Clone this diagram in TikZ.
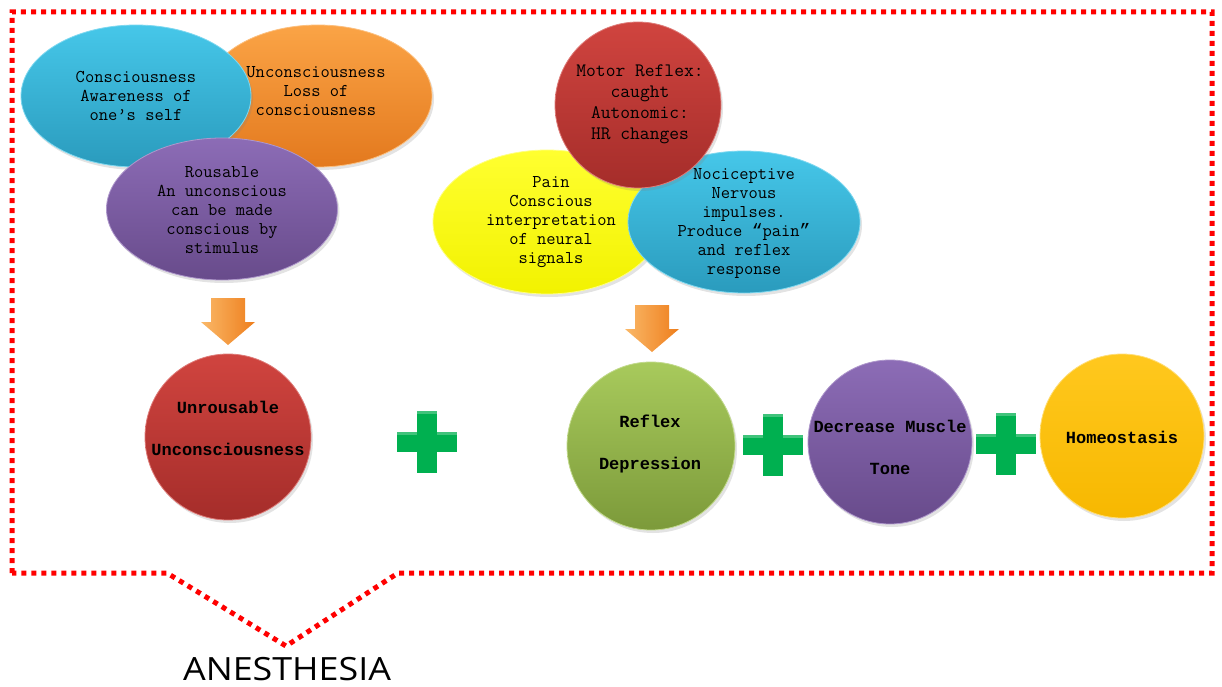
\documentclass[tikz,border=0pt]{standalone}
\usepackage{fontspec}
\newfontfamily\monof{Liberation Mono}
\newfontfamily\lmmono{Latin Modern Mono}
\newfontfamily\anesf[FakeStretch=1.12]{Open Sans}
\usetikzlibrary{shapes.geometric,shadows}
\definecolor{cyanT}{HTML}{46C7E9}
\definecolor{cyanB}{HTML}{2A9BBD}
\definecolor{orT}{HTML}{FBA446}
\definecolor{orB}{HTML}{E3791E}
\definecolor{puT}{HTML}{8C6CB6}
\definecolor{puB}{HTML}{684B8B}
\definecolor{reT}{HTML}{D0443F}
\definecolor{reB}{HTML}{A52D2A}
\definecolor{yeT}{HTML}{FFFF30}
\definecolor{yeB}{HTML}{F2F200}
\definecolor{grT}{HTML}{A8CA5C}
\definecolor{grB}{HTML}{7C9A3A}
\definecolor{hoT}{HTML}{FFC81E}
\definecolor{hoB}{HTML}{F7B800}
\definecolor{plusg}{HTML}{00B050}
\definecolor{arL}{HTML}{FAB868}
\definecolor{arR}{HTML}{EE7E1C}
\definecolor{dotred}{HTML}{FF0000}
\tikzset{
  blob/.style={ellipse, inner sep=0pt, line width=0.8pt,
    drop shadow={opacity=0.22, shadow xshift=2pt, shadow yshift=-3pt}},
  ball/.style={circle, inner sep=0pt, line width=0.8pt,
    drop shadow={opacity=0.22, shadow xshift=2pt, shadow yshift=-3pt}},
  txt/.style={font=\lmmono\fontsize{18}{19}\selectfont, align=center, text=black, inner sep=0pt},
  rtxt/.style={font=\lmmono\fontsize{19}{21}\selectfont, align=center, text=black, inner sep=0pt},
  btxt/.style={font=\monof\bfseries\fontsize{17}{42}\selectfont, align=center, text=black, inner sep=0pt},
  frame/.style={dotred, line width=5pt, dash pattern=on 5pt off 5pt},
  plussign/.pic={
    \fill[plusg] (-10,-31) rectangle (10,31);
    \fill[plusg] (-30,-10) rectangle (30,10);
    \fill[white, opacity=0.25] (-10,-31) rectangle (10,-28);
    \fill[white, opacity=0.25] (-30,-10) rectangle (-10,-7);
    \fill[white, opacity=0.25] (10,-10) rectangle (30,-7);
  },
  downarrow/.pic={
    \shade[left color=arL, right color=arR]
      (-17,0) -- (17,0) -- (17,24) -- (27,24) -- (0,47) -- (-27,24) -- (-17,24) -- cycle;
  }
}
\begin{document}
\begin{tikzpicture}[x=1pt,y=-1pt]
\useasboundingbox (0,0) rectangle (1222,687);

% dotted frame with notch
\coordinate (f1) at (12,573);
\coordinate (f2) at (12,12);
\coordinate (f3) at (1212,12);
\coordinate (f4) at (1212,573);
\coordinate (f5) at (398,573);
\coordinate (f6) at (286,646);
\coordinate (f7) at (167,573);
\draw[frame] (f1) -- (f2) -- (f3) -- (f4) -- (f5) -- (f6) -- (f7) -- cycle;

% left group
\node[blob, minimum width=228, minimum height=142, top color=orT, bottom color=orB, draw=orT!70!white] (unc) at (318,96) {};
\node[blob, minimum width=230, minimum height=142, top color=cyanT, bottom color=cyanB, draw=cyanT!70!white] (con) at (136,96) {};
\node[blob, minimum width=231, minimum height=142, top color=puT, bottom color=puB, draw=puT!70!white] (rou) at (222,209) {};
\node[txt] (con-t) at (136,96) {Consciousness\\Awareness of\\one’s self};
\node[txt] (unc-t) at (316,91) {Unconsciousness\\Loss of\\consciousness};
\node[txt] (rou-t) at (222,210) {Rousable\\An unconscious\\can be made\\conscious by\\stimulus};

% middle group
\node[blob, minimum width=228, minimum height=144, top color=yeT, bottom color=yeB, draw=yeT!60!white] (pain) at (547,222) {};
\node[blob, minimum width=232, minimum height=142, top color=cyanT, bottom color=cyanB, draw=cyanT!70!white] (noc) at (744,222) {};
\node[ball, minimum size=166, top color=reT, bottom color=reB, draw=reT!70!white] (mot) at (638,105) {};
\node[rtxt] (mot-t) at (640,104) {Motor Reflex:\\caught\\Autonomic:\\HR changes};
\node[txt] (pain-t) at (551,222) {Pain\\Conscious\\interpretation\\of neural\\signals};
\node[txt] (noc-t) at (744,223) {Nociceptive\\Nervous\\impulses.\\Produce {\monof“}pain{\monof”}\\and reflex\\response};

% arrows
\pic at (228,298) {downarrow};
\pic at (652,305) {downarrow};

% bottom row
\node[ball, minimum size=166, top color=reT, bottom color=reB, draw=reT!70!white] (unr) at (228,437) {};
\node[btxt] (unr-t) at (228,428) {Unrousable\\Unconsciousness};
\node[ball, minimum size=168, top color=grT, bottom color=grB, draw=grT!70!white] (ref) at (651,446) {};
\node[btxt] (ref-t) at (650,444) {Reflex\\Depression};
\node[ball, minimum size=164, top color=puT, bottom color=puB, draw=puT!70!white] (mus) at (890,442) {};
\node[btxt] (mus-t) at (890,447) {Decrease Muscle\\Tone};
\node[ball, minimum size=164, top color=hoT, bottom color=hoB, draw=hoT!60!white] (hom) at (1122,436) {};
\node[btxt] (hom-t) at (1122,437) {Homeostasis};

\pic at (427,442) {plussign};
\pic at (773,445) {plussign};
\pic at (1006,444) {plussign};

% label
\node[font=\anesf\fontsize{32}{36}\selectfont, text=black, inner sep=0pt, anchor=base] (anes) at (287,680) {ANESTHESIA};
\end{tikzpicture}
\end{document}
